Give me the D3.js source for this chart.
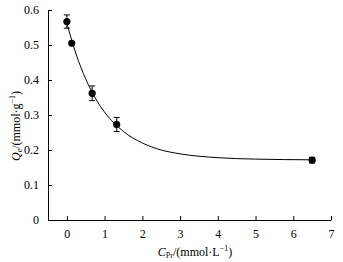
<!DOCTYPE html>
<html>
<head>
<meta charset="utf-8">
<script src="https://cdn.jsdelivr.net/npm/d3@7"></script>
<style>
  body { margin: 0; background: #fff; }
  .axis path, .axis line { stroke: #000; stroke-width: 1; }
</style>
</head>
<body>
<div id="chart"></div>
<script>
// measured points
const concX = [0, 0.13, 0.67, 1.32, 6.5]
const adsorbY = [0.567, 0.505, 0.362, 0.273, 0.171]
const errY = [0.019, 0, 0.021, 0.02, 0.008]

// fitted curve
const fitX = [0, 0.25, 0.5, 0.75, 1, 1.5, 2, 2.5, 3, 4, 5, 6.5]
const fitY = [0.562, 0.472, 0.403, 0.349, 0.308, 0.253, 0.220, 0.200, 0.189, 0.178, 0.174, 0.172]

const xTicks = [0, 1, 2, 3, 4, 5, 6, 7]
const yTicks = [0, 0.1, 0.2, 0.3, 0.4, 0.5, 0.6]

const serif = "'Liberation Serif', 'Times New Roman', serif"
const width = 343
const height = 262
const margin = { top: 10, right: 12, bottom: 42, left: 48 }

const svg = d3.select('#chart').append('svg')
  .attr('width', width)
  .attr('height', height)
  .style('display', 'block')

const x = d3.scaleLinear().domain([-0.5, 7]).range([margin.left, width - margin.right])
const y = d3.scaleLinear().domain([0, 0.6]).range([height - margin.bottom, margin.top])

const gx = svg.append('g')
  .attr('class', 'x axis')
  .attr('transform', 'translate(0,' + y(0) + ')')
  .call(d3.axisBottom(x).tickValues(xTicks).tickSize(-4).tickSizeOuter(0).tickPadding(9).tickFormat(d3.format('d')))

const gy = svg.append('g')
  .attr('class', 'y axis')
  .attr('transform', 'translate(' + x(-0.5) + ',0)')
  .call(d3.axisLeft(y).tickValues(yTicks).tickSize(-4).tickSizeOuter(0).tickPadding(9).tickFormat(d => d === 0 ? '0' : d3.format('.1f')(d)))

svg.selectAll('.axis').attr('font-family', serif).attr('font-size', 12)
svg.selectAll('.axis text').attr('fill', '#000')

// fitted line
const line = d3.line()
  .x((d, i) => x(fitX[i]))
  .y(d => y(d))
  .curve(d3.curveMonotoneX)

svg.append('path')
  .datum(fitY)
  .attr('d', line)
  .attr('fill', 'none')
  .attr('stroke', '#000')
  .attr('stroke-width', 1)

// error bars
const bars = svg.append('g')
concX.forEach((cx, i) => {
  if (!errY[i]) return
  const px = x(cx)
  const top = y(adsorbY[i] + errY[i])
  const bot = y(adsorbY[i] - errY[i])
  bars.append('line').attr('x1', px).attr('x2', px).attr('y1', top).attr('y2', bot).attr('stroke', '#000')
  bars.append('line').attr('x1', px - 3).attr('x2', px + 3).attr('y1', top).attr('y2', top).attr('stroke', '#000')
  bars.append('line').attr('x1', px - 3).attr('x2', px + 3).attr('y1', bot).attr('y2', bot).attr('stroke', '#000')
})

svg.append('g')
  .selectAll('circle')
  .data(adsorbY)
  .enter()
  .append('circle')
  .attr('cx', (d, i) => x(concX[i]))
  .attr('cy', d => y(d))
  .attr('r', 3.6)
  .attr('fill', '#000')

// axis labels
const xl = svg.append('text')
  .attr('x', 195)
  .attr('y', 256)
  .attr('text-anchor', 'middle')
  .attr('font-family', serif)
  .attr('font-size', 12)
xl.append('tspan').attr('font-style', 'italic').text('C')
xl.append('tspan').attr('font-size', 8).attr('dy', 2).text('Pr')
xl.append('tspan').attr('dy', -2).text('/(mmol·L')
xl.append('tspan').attr('font-size', 8).attr('dy', -5).text('−1')
xl.append('tspan').attr('dy', 5).text(')')

const yl = svg.append('text')
  .attr('transform', 'translate(20,126) rotate(-90)')
  .attr('text-anchor', 'middle')
  .attr('font-family', serif)
  .attr('font-size', 12)
yl.append('tspan').attr('font-style', 'italic').text('Q')
yl.append('tspan').attr('font-style', 'italic').attr('font-size', 8).attr('dy', 2).text('e')
yl.append('tspan').attr('dy', -2).text('/(mmol·g')
yl.append('tspan').attr('font-size', 8).attr('dy', -5).text('−1')
yl.append('tspan').attr('dy', 5).text(')')
</script>
</body>
</html>
